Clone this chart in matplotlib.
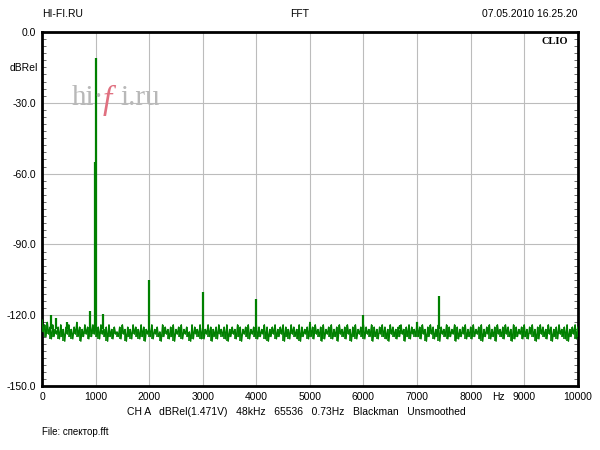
import matplotlib
matplotlib.use('Agg')
import matplotlib.pyplot as plt
import numpy as np

plt.rcParams['font.family'] = ['Liberation Sans', 'DejaVu Sans']

# --- noise floor, top and bottom of the band read every 50 Hz (dB) ---
noise_step = 50
noise_hi = [
    -122, -124, -123, -125, -124, -126, -125, -124, -126, -125, -124, -126, -125, -123, -125, -126, -124, -125, -123, -124,
    -124, -125, -124, -126, -125, -124, -126, -125, -127, -125, -124, -126, -125, -126, -124, -125, -126, -124, -125, -126,
    -125, -124, -126, -125, -127, -124, -125, -126, -125, -124, -126, -125, -124, -126, -125, -127, -124, -125, -126, -124,
    -125, -126, -124, -125, -126, -125, -124, -126, -125, -124, -126, -125, -126, -124, -125, -126, -125, -124, -126, -125,
    -124, -125, -126, -124, -125, -126, -125, -124, -126, -125, -124, -125, -126, -124, -125, -126, -124, -125, -126, -125,
    -123, -125, -124, -126, -125, -124, -126, -125, -124, -126, -125, -124, -126, -125, -124, -126, -125, -124, -126, -125,
    -124, -125, -126, -124, -125, -126, -125, -124, -125, -126, -124, -125, -126, -125, -124, -126, -125, -124, -125, -126,
    -123, -125, -124, -126, -125, -124, -125, -126, -124, -125, -126, -124, -125, -126, -124, -125, -126, -125, -124, -126,
    -125, -124, -126, -125, -124, -126, -125, -124, -126, -125, -124, -126, -125, -124, -125, -126, -124, -125, -126, -125,
    -124, -126, -125, -124, -126, -125, -124, -125, -126, -124, -125, -126, -125, -124, -126, -125, -124, -126, -125, -124,
    -125,
]
noise_lo = [
    -127, -129, -128, -130, -129, -128, -130, -129, -131, -128, -129, -130, -128, -129, -131, -129, -128, -130, -129, -128,
    -129, -130, -128, -129, -131, -129, -130, -128, -129, -130, -128, -131, -129, -130, -128, -129, -130, -129, -131, -128,
    -129, -130, -128, -129, -131, -129, -128, -130, -129, -131, -128, -129, -130, -128, -129, -131, -130, -128, -129, -130,
    -130, -128, -129, -131, -129, -130, -128, -129, -130, -131, -129, -128, -130, -129, -131, -128, -129, -130, -128, -129,
    -130, -129, -128, -130, -131, -129, -128, -130, -129, -128, -131, -129, -130, -128, -129, -130, -131, -129, -128, -130,
    -129, -130, -128, -129, -131, -130, -128, -129, -130, -129, -131, -128, -129, -130, -128, -131, -129, -130, -128, -129,
    -130, -128, -129, -131, -129, -130, -128, -129, -130, -131, -128, -129, -130, -129, -128, -131, -129, -130, -128, -129,
    -129, -130, -128, -131, -129, -128, -130, -129, -131, -128, -129, -130, -129, -128, -131, -130, -129, -128, -130, -129,
    -130, -129, -128, -130, -131, -129, -128, -130, -129, -131, -128, -129, -130, -128, -129, -131, -130, -129, -128, -130,
    -129, -130, -128, -129, -131, -130, -128, -129, -130, -128, -131, -129, -130, -128, -129, -130, -131, -129, -128, -130,
    -129,
]

# --- spectral lines (fundamental, harmonics, spurs) ---
spur_hz = [168, 261, 466, 895, 995, 1000, 1132, 2000, 3000, 4000, 5000, 6000, 6680, 7000, 7410]
spur_db = [-120, -121, -123, -118, -55, -11, -119.5, -105, -110, -113, -123.5, -120, -124, -123, -112]

x_ticks = [0, 1000, 2000, 3000, 4000, 5000, 6000, 7000, 8000, 9000, 10000]
y_ticks = [0, -30, -60, -90, -120, -150]

green = '#008000'

fig = plt.figure(figsize=(6, 4.5), dpi=100)
ax = fig.add_axes([0.07, 0.142, 0.893, 0.787])

freqs = np.arange(len(noise_hi)) * noise_step
# min/max per column, like the analyser display
zig_x = np.ravel(np.column_stack([freqs, freqs + noise_step / 2]))
zig_y = np.ravel(np.column_stack([noise_hi, noise_lo]))
ax.plot(zig_x, zig_y, color=green, lw=1.0, zorder=3)
ax.vlines(freqs, noise_lo, noise_hi, color=green, lw=1.2, zorder=3)
ax.vlines(spur_hz, -126, spur_db, color=green, lw=1.6, zorder=3)

ax.set_xlim(0, 10000)
ax.set_ylim(-150, 0)
ax.set_xticks(x_ticks)
ax.set_xticklabels([str(t) for t in x_ticks], fontsize=7.5)
ax.set_yticks(y_ticks)
ax.set_yticklabels(['%.1f' % t for t in y_ticks], fontsize=7.5)
ax.set_yticks(np.arange(-150, 1, 3), minor=True)
ax.tick_params(which='major', length=0, pad=4)
ax.tick_params(which='minor', axis='y', direction='in', length=3, width=0.6,
               left=True, right=True, color='#555555')
ax.tick_params(which='minor', axis='x', bottom=False)
ax.grid(True, color='#bcbcbc', lw=0.8, zorder=0)
for s in ax.spines.values():
    s.set_linewidth(2)
ax.set_axisbelow(True)

# watermark
fig.text(72 / 600, 1 - 105 / 450, 'hi\u00b7', family='Liberation Serif', fontsize=21,
         color='#b8b8b8', zorder=2)
fig.text(103 / 600, 1 - 109 / 450, 'f', family='Liberation Serif', style='italic',
         fontsize=24, color='#e07080', zorder=2)
fig.text(120 / 600, 1 - 105 / 450, 'i.ru', family='Liberation Serif', fontsize=21,
         color='#b8b8b8', zorder=2)

# labels around the plot
fig.text(42 / 600, 1 - 14 / 450, 'HI-FI.RU', fontsize=7.5, va='center')
fig.text(300 / 600, 1 - 14 / 450, 'FFT', fontsize=7.5, va='center', ha='center')
fig.text(578 / 600, 1 - 14 / 450, '07.05.2010 16.25.20', fontsize=7.5, va='center', ha='right')
fig.text(38 / 600, 1 - 68 / 450, 'dBRel', fontsize=7.5, va='center', ha='right')
fig.text(568 / 600, 1 - 41 / 450, 'CLIO', family='Liberation Serif', fontweight='bold',
         fontsize=7.5, va='center', ha='right')
fig.text(498 / 600, 1 - 397 / 450, 'Hz', fontsize=7.5, va='center', ha='center')
fig.text(296 / 600, 1 - 412 / 450,
         'CH A   dBRel(1.471V)   48kHz   65536   0.73Hz   Blackman   Unsmoothed',
         fontsize=7.5, va='center', ha='center')
fig.text(42 / 600, 1 - 432 / 450, 'File: спектор.fft', fontsize=7, va='center')

fig.savefig('out.png', dpi=100)
